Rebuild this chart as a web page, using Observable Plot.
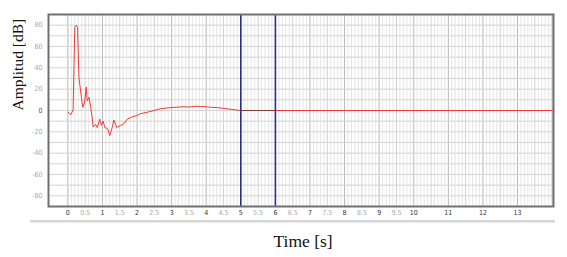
<!DOCTYPE html>
<html>
<head>
<meta charset="utf-8">
<script src="https://cdn.jsdelivr.net/npm/d3@7"></script>
<script src="https://cdn.jsdelivr.net/npm/@observablehq/plot@0.6"></script>
<style>
  html, body { margin: 0; padding: 0; background: #fff; }
  #chart { width: 567px; height: 257px; overflow: hidden; }
</style>
</head>
<body>
<div id="chart"></div>
<script>
// ---- data ----
const timeS = [0, 0.08, 0.15, 0.2, 0.24, 0.28, 0.32, 0.39, 0.43, 0.48, 0.53, 0.56, 0.61, 0.66, 0.70, 0.73, 0.80, 0.85, 0.92, 0.97, 1.02, 1.07, 1.15, 1.21, 1.28, 1.33, 1.41, 1.52, 1.6, 1.72, 1.86, 2.0, 2.1, 2.3, 2.49, 2.68, 2.9, 3.1, 3.3, 3.5, 3.7, 3.84, 4.0, 4.12, 4.3, 4.5, 4.7, 5.0, 5.5, 6.0, 14.04];
const amplitudeDb = [-1.5, -4, 0, 78, 80, 78, 31, 12.5, 3, 7, 22, 9, 12.5, 3, -6, -15.6, -13, -16, -8, -14, -10, -16, -17, -23.5, -16, -9, -16, -14, -13, -8, -6, -4.7, -3, -1.6, 0, 1.6, 2.5, 3, 3.5, 3.2, 4, 3.8, 3.5, 3, 2.8, 2, 1.2, 0, 0, 0, 0];
const cursorTimes = [5, 6];
const xTickValues = [0, 0.5, 1, 1.5, 2, 2.5, 3, 3.5, 4, 4.5, 5, 5.5, 6, 6.5, 7, 7.5, 8, 8.5, 9, 9.5, 10, 11, 12, 13];
const xTickLabels = ["0", "0.5", "1", "1.5", "2", "2.5", "3", "3.5", "4", "4.5", "5", "5.5", "6", "6.5", "7", "7.5", "8", "8.5", "9", "9.5", "10", "11", "12", "13"];
const yTickValues = [80, 60, 40, 20, 0, -20, -40, -60, -80];
const yTickLabels = ["80", "60", "40", "20", "0", "-20", "-40", "-60", "-80"];
const xLabel = "Time [s]";
const yLabel = "Amplitud [dB]";

// ---- grid positions ----
const minorX = d3.range(0, 141).map(i => i / 10).filter(v => Math.round(v * 10) % 5 !== 0);
const halfX = d3.range(0, 29).map(i => i / 2).filter(v => v % 1 !== 0);
const intX = d3.range(0, 15);
const gridY = d3.range(-80, 90, 10);

const series = timeS.map((t, i) => ({t, v: amplitudeDb[i]}));
const between = series.filter(d => d.t >= cursorTimes[0] && d.t <= cursorTimes[1]);
const xTicks = xTickValues.map((v, i) => ({v, label: xTickLabels[i], major: v % 1 === 0}));
const yTicks = yTickValues.map((v, i) => ({v, label: yTickLabels[i]}));

const tickFont = "'Liberation Sans Narrow', 'DejaVu Sans Condensed', 'Liberation Sans', sans-serif";
const labelFont = "'Liberation Serif', 'DejaVu Serif', serif";

const plot = Plot.plot({
  width: 567,
  height: 257,
  marginLeft: 48,
  marginRight: 14,
  marginTop: 14,
  marginBottom: 51,
  x: {domain: [-0.56, 14.04], axis: null},
  y: {domain: [-90, 90], axis: null},
  style: {background: "#fff", overflow: "visible"},
  marks: [
    Plot.ruleX(minorX, {stroke: "#e6e6e6", strokeWidth: 1}),
    Plot.ruleX(halfX, {stroke: "#d2d2d2", strokeWidth: 1}),
    Plot.ruleX(intX, {stroke: "#b8b8b8", strokeWidth: 1}),
    Plot.ruleY(gridY, {stroke: "#d4d4d4", strokeWidth: 1}),
    Plot.line(series, {x: "t", y: "v", stroke: "#ee3b3b", strokeWidth: 1}),
    Plot.line(between, {x: "t", y: "v", stroke: "#8a3a3a", strokeWidth: 1.2}),
    Plot.ruleX(cursorTimes, {stroke: "#2b2f8c", strokeWidth: 1.6}),
    Plot.frame({stroke: "#707070", strokeWidth: 2}),
    Plot.text(xTicks, {
      x: "v", text: "label", frameAnchor: "bottom", dy: 8,
      fill: d => d.major ? "#333" : "#aaa",
      fontSize: 7, fontFamily: tickFont
    }),
    Plot.text(yTicks, {
      y: "v", text: "label", frameAnchor: "left", dx: -6, textAnchor: "end",
      fill: d => d.v === 0 ? "#555" : "#a8a8a8",
      fontSize: 7, fontFamily: tickFont
    }),
    Plot.text([xLabel], {
      frameAnchor: "bottom", dy: 40, fontSize: 17.5, fontFamily: labelFont, fill: "#111",
      x: () => 6.8
    }),
    Plot.text([yLabel], {
      frameAnchor: "left", dx: -30, rotate: -90, fontSize: 15.5, fontFamily: labelFont, fill: "#111"
    })
  ]
});

// decorative separator band below the tick labels
const svg = d3.select(plot);
svg.insert("rect", ":first-child")
  .attr("x", 30).attr("y", 220).attr("width", 525).attr("height", 2.5)
  .attr("fill", "#d6d6d6");

document.getElementById("chart").appendChild(plot);
</script>
</body>
</html>
